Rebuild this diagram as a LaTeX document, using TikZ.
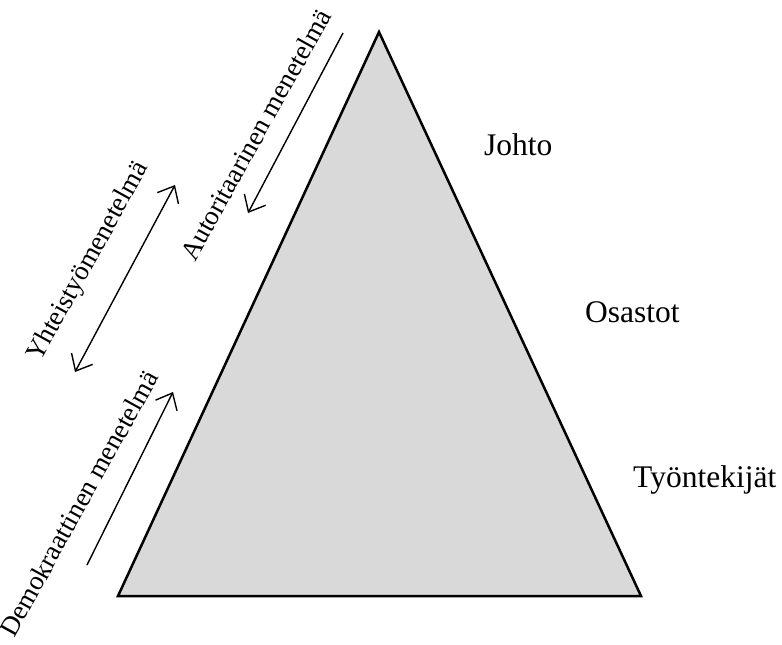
\documentclass[tikz,border=0pt]{standalone}
\usepackage{fontspec}
\setmainfont{Liberation Serif}
\usetikzlibrary{arrows.meta}
\begin{document}
\begin{tikzpicture}[x=1pt,y=-1pt,
  level/.style={anchor=base west,font=\fontsize{31.5}{36}\selectfont,inner sep=0pt},
  method/.style={anchor=base west,font=\fontsize{27}{30}\selectfont,inner sep=0pt,rotate=61},
  barb/.tip={Straight Barb[length=14pt,width=24pt,line width=1.4pt]},
  flow/.style={line width=1.4pt,-barb},
  twoway/.style={line width=1.4pt,barb-barb},
]
\useasboundingbox (0,0) rectangle (782,645);

% pyramid
\coordinate (apex) at (379,32);
\coordinate (bl) at (118,596);
\coordinate (br) at (641,596);
\draw[line width=2.5pt,fill={rgb,255:red,217;green,217;blue,217}] (apex) -- (br) -- (bl) -- cycle;

% levels
\node[level] (johto) at (484,155) {Johto};
\node[level] (osastot) at (585,322) {Osastot};
\node[level] (tyont) at (633,487) {Työntekijät};

% top-down method
\coordinate (a1) at (343,33);
\coordinate (a2) at (248,213);
\draw[flow] (a1) -- (a2);
\node[method] (auto) at (195,263) {Autoritaarinen menetelmä};

% two-way method
\coordinate (y1) at (175,185);
\coordinate (y2) at (75,372);
\draw[twoway] (y1) -- (y2);
\node[method] (yht) at (40,363) {Yhteistyömenetelmä};

% bottom-up method
\coordinate (d1) at (87,565);
\coordinate (d2) at (173,392);
\draw[flow] (d1) -- (d2);
\node[method] (demo) at (14,639) {Demokraattinen menetelmä};
\end{tikzpicture}
\end{document}
